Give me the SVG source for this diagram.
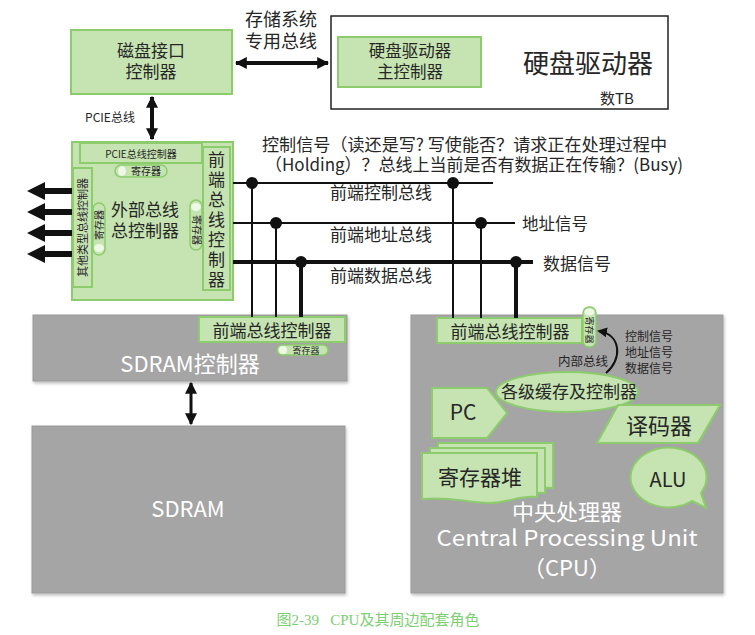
<svg xmlns="http://www.w3.org/2000/svg" width="755" height="635" viewBox="0 0 755 635">
<style>
.g{fill:#c6e4b2;stroke:#8ccc6c;stroke-width:2}
.gray{fill:#a5a5a5;stroke:#9a9a9a;stroke-width:1}
.t{font-family:"Noto Sans CJK SC","Noto Sans",sans-serif;fill:#262626}
.w{font-family:"Noto Sans CJK SC","Noto Sans",sans-serif;fill:#ffffff}
.pill{fill:#c6e4b2;stroke:#8ccc6c;stroke-width:1.5}
.oval{fill:#eef8e6;stroke:none}
.bus{stroke:#111;fill:none}
.dot{fill:#111}
</style>
<defs>
<marker id="ah" viewBox="0 0 10 10" refX="9" refY="5" markerWidth="12" markerHeight="12" markerUnits="userSpaceOnUse" orient="auto-start-reverse">
<path d="M0,0 L10,5 L0,10 Z" fill="#111"/>
</marker>
<marker id="ahs" viewBox="0 0 10 10" refX="8" refY="5" markerWidth="10" markerHeight="10" markerUnits="userSpaceOnUse" orient="auto">
<path d="M0,0 L10,5 L0,10 Z" fill="#111"/>
</marker>
<filter id="sh" x="-5%" y="-5%" width="110%" height="115%">
<feDropShadow dx="1" dy="2" stdDeviation="1.5" flood-color="#000" flood-opacity="0.25"/>
</filter>
<path id="larr" d="M72,-3 H45 V-9 L27,0 L45,9 V3 H72 Z" fill="#111"/>
</defs>
<rect width="755" height="635" fill="#ffffff"/>

<!-- Disk interface controller -->
<g id="disk-if">
<rect class="g" x="71" y="30" width="161" height="64"/>
<text class="t" x="151" y="57" font-size="17" text-anchor="middle">磁盘接口</text>
<text class="t" x="151" y="78" font-size="17" text-anchor="middle">控制器</text>
</g>

<!-- Hard drive -->
<g id="hdd">
<rect x="331" y="16" width="337" height="93" fill="#fff" stroke="#222" stroke-width="1.5"/>
<rect class="g" x="338" y="37" width="143" height="50"/>
<text class="t" x="410" y="57" font-size="16.5" text-anchor="middle">硬盘驱动器</text>
<text class="t" x="410" y="78" font-size="16.5" text-anchor="middle">主控制器</text>
<text class="t" x="588" y="73" font-size="26" text-anchor="middle">硬盘驱动器</text>
<text class="t" x="600" y="104" font-size="15">数TB</text>
</g>

<!-- Storage bus label -->
<g id="labels-top">
<text class="t" x="281" y="26" font-size="18" text-anchor="middle">存储系统</text>
<text class="t" x="281" y="48" font-size="18" text-anchor="middle">专用总线</text>
<text class="t" x="110" y="122" font-size="12" text-anchor="middle">PCIE总线</text>
</g>

<!-- External bus controller -->
<g id="ext-bus">
<rect class="g" x="72" y="142" width="161" height="158"/>
<rect class="g" x="80" y="143" width="122" height="20" stroke-width="1.5"/>
<text class="t" x="141" y="158" font-size="10" text-anchor="middle">PCIE总线控制器</text>
<rect class="pill" x="115" y="165" width="52" height="12" rx="6"/>
<ellipse class="oval" cx="122" cy="171" rx="4" ry="5"/>
<text class="t" x="146" y="175" font-size="10" text-anchor="middle">寄存器</text>
<rect class="g" x="73" y="168" width="19" height="119" stroke-width="1.5"/>
<text class="t" transform="translate(86.5,227.5) rotate(-90)" font-size="11" text-anchor="middle">其他类型总线控制器</text>
<rect class="pill" x="93" y="203" width="12" height="52" rx="6"/>
<ellipse class="oval" cx="99" cy="248" rx="5" ry="4"/>
<text class="t" transform="translate(102.5,225) rotate(-90)" font-size="10" text-anchor="middle">寄存器</text>
<rect class="pill" x="190" y="200" width="12" height="50" rx="6"/>
<ellipse class="oval" cx="196" cy="207" rx="5" ry="4"/>
<text class="t" transform="translate(192.5,230) rotate(90)" font-size="10" text-anchor="middle">寄存器</text>
<rect class="g" x="203" y="147" width="27" height="143" stroke-width="1.5"/>
<text class="t" x="216.5" y="151" font-size="17" letter-spacing="3" style="writing-mode:vertical-rl">前端总线控制器</text>
<text class="t" x="145" y="216" font-size="17" text-anchor="middle">外部总线</text>
<text class="t" x="145" y="237" font-size="17" text-anchor="middle">总控制器</text>
</g>

<!-- SDRAM controller -->
<g id="sdram-ctrl">
<rect class="gray" x="33" y="315" width="314" height="66" filter="url(#sh)"/>
<rect class="g" x="199" y="317" width="146" height="25"/>
<text class="t" x="272" y="337" font-size="17" text-anchor="middle">前端总线控制器</text>
<rect class="pill" x="277" y="345" width="51" height="10" rx="5"/>
<ellipse class="oval" cx="283" cy="350" rx="4" ry="4"/>
<text class="t" x="306" y="353.5" font-size="9" text-anchor="middle">寄存器</text>
<text class="w" x="190" y="372" font-size="22" text-anchor="middle">SDRAM控制器</text>
</g>

<!-- SDRAM -->
<g id="sdram">
<rect class="gray" x="32" y="426" width="313" height="167" filter="url(#sh)"/>
<text class="w" x="188" y="517" font-size="22" text-anchor="middle">SDRAM</text>
</g>

<!-- CPU -->
<g id="cpu">
<rect class="gray" x="411" y="315" width="312" height="278" filter="url(#sh)"/>
<rect class="g" x="437" y="318" width="145" height="25"/>
<text class="t" x="510" y="338" font-size="17" text-anchor="middle">前端总线控制器</text>
<rect class="pill" x="583" y="307" width="13" height="40" rx="6"/>
<ellipse class="oval" cx="589.5" cy="312" rx="5" ry="3.5"/>
<text class="t" transform="translate(586,330) rotate(90)" font-size="9" text-anchor="middle">寄存器</text>
<text class="t" x="583" y="366" font-size="12.5" text-anchor="middle">内部总线</text>
<text class="t" x="625" y="341" font-size="12">控制信号</text>
<text class="t" x="625" y="357" font-size="12">地址信号</text>
<text class="t" x="625" y="373" font-size="12">数据信号</text>
<ellipse class="g" cx="567" cy="392" rx="71" ry="20"/>
<text class="t" x="569" y="398" font-size="17" text-anchor="middle">各级缓存及控制器</text>
<polygon class="g" points="432,388 487,388 507,413 487,438 432,438"/>
<text class="t" x="463" y="420" font-size="21" text-anchor="middle">PC</text>
<polygon class="g" points="618,405 720,405 698,443 597,443"/>
<text class="t" x="659" y="434" font-size="22" text-anchor="middle">译码器</text>
<path class="g" d="M438,443 H553 V488 C535,486 525,493 505,493 C480,493 470,487 438,489 Z"/>
<path class="g" d="M430,448 H545 V493 C527,491 517,498 497,498 C472,498 462,492 430,494 Z"/>
<path class="g" d="M422,453 H537 V497 C519,495 509,503 489,503 C464,503 452,496 422,499 Z"/>
<text class="t" x="480" y="485" font-size="21" text-anchor="middle">寄存器堆</text>
<path class="g" d="M692,501 L706,508 L701,493 A38,30 0 1,0 692,501 Z"/>
<text class="t" x="668" y="487" font-size="20" text-anchor="middle">ALU</text>
<text class="w" x="567" y="520" font-size="22" text-anchor="middle">中央处理器</text>
<text class="w" x="567" y="546" font-size="22" text-anchor="middle" textLength="261" lengthAdjust="spacingAndGlyphs">Central Processing Unit</text>
<text class="w" x="567" y="576" font-size="22" text-anchor="middle">（CPU）</text>
</g>

<!-- Bus texts -->
<g id="bus-labels">
<text class="t" x="262" y="151" font-size="17" textLength="405" lengthAdjust="spacingAndGlyphs">控制信号（读还是写? 写使能否？请求正在处理过程中</text>
<text class="t" x="265" y="171" font-size="17" textLength="418" lengthAdjust="spacingAndGlyphs">（Holding）？总线上当前是否有数据正在传输？(Busy)</text>
<text class="t" x="330" y="199" font-size="17">前端控制总线</text>
<text class="t" x="330" y="241" font-size="17">前端地址总线</text>
<text class="t" x="330" y="282" font-size="17">前端数据总线</text>
<text class="t" x="522" y="230" font-size="16.5">地址信号</text>
<text class="t" x="543" y="270" font-size="17">数据信号</text>
</g>

<!-- Connectors -->
<g id="connectors">
<line class="bus" x1="236" y1="63" x2="328" y2="63" stroke-width="4" marker-start="url(#ah)" marker-end="url(#ah)"/>
<line class="bus" x1="152" y1="97" x2="152" y2="139" stroke-width="4" marker-start="url(#ah)" marker-end="url(#ah)"/>
<line class="bus" x1="191" y1="383" x2="191" y2="424" stroke-width="3" marker-start="url(#ah)" marker-end="url(#ah)"/>
<use href="#larr" y="191"/>
<use href="#larr" y="212"/>
<use href="#larr" y="233"/>
<use href="#larr" y="254"/>
<line class="bus" x1="233" y1="183" x2="493" y2="183" stroke-width="2"/>
<line class="bus" x1="233" y1="223" x2="515" y2="223" stroke-width="2"/>
<line class="bus" x1="233" y1="262" x2="533" y2="262" stroke-width="4"/>
<line class="bus" x1="252" y1="183" x2="252" y2="317" stroke-width="2"/>
<line class="bus" x1="276" y1="223" x2="276" y2="317" stroke-width="2"/>
<line class="bus" x1="301" y1="262" x2="301" y2="317" stroke-width="4"/>
<line class="bus" x1="453" y1="183" x2="453" y2="318" stroke-width="2"/>
<line class="bus" x1="481" y1="223" x2="481" y2="318" stroke-width="2"/>
<line class="bus" x1="516" y1="262" x2="516" y2="318" stroke-width="4"/>
<circle class="dot" cx="252" cy="183" r="6"/>
<circle class="dot" cx="453" cy="183" r="6"/>
<circle class="dot" cx="276" cy="223" r="6"/>
<circle class="dot" cx="481" cy="223" r="6"/>
<circle class="dot" cx="301" cy="262" r="6"/>
<circle class="dot" cx="516" cy="262" r="6"/>
<path class="bus" d="M606,373 C622,360 622,335 599,331" stroke-width="2" marker-end="url(#ahs)"/>
</g>

<text x="378" y="625" font-family="'Liberation Serif','Noto Sans CJK SC',serif" font-size="15" fill="#7ccf72" text-anchor="middle" xml:space="preserve">图2-39   CPU及其周边配套角色</text>
</svg>
